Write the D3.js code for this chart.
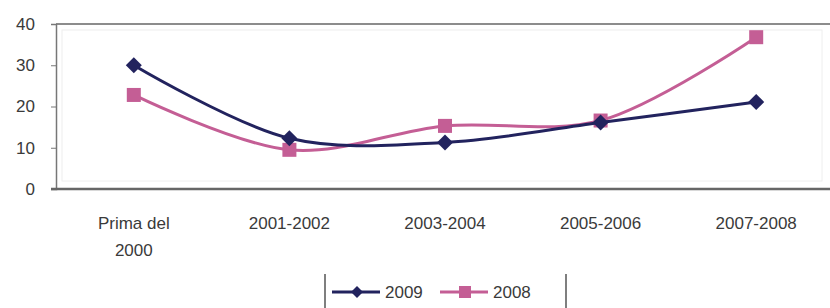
<!DOCTYPE html>
<html>
<head>
<meta charset="utf-8">
<script src="https://cdn.jsdelivr.net/npm/d3@7"></script>
<style>
  body { margin: 0; background: #fff; }
  svg { display: block; font-family: "Liberation Sans", Arial, sans-serif; }
</style>
</head>
<body>
<div id="chart"></div>
<script>
const width = 830;
const height = 308;
const margin = ({top: 24, right: -4, bottom: 119, left: 56});

const categories = ["Prima del 2000", "2001-2002", "2003-2004", "2005-2006", "2007-2008"];
const seriesNames = ["2009", "2008"];
const values2009 = [30, 12.3, 11.3, 16.1, 21.1];
const values2008 = [22.8, 9.5, 15.3, 16.6, 36.8];
const yTicks = [0, 10, 20, 30, 40];

const colors = d3.scaleOrdinal()
    .domain(seriesNames)
    .range(["#22235e", "#c45e95"]);

const svg = d3.select("#chart")
    .append("svg")
    .attr("width", width)
    .attr("height", height);

const x = d3.scaleBand()
    .domain(categories)
    .range([margin.left, width - margin.right]);

const y = d3.scaleLinear()
    .domain([0, 40])
    .range([height - margin.bottom, margin.top]);

// faint inner frame of the plot area
svg.append("rect")
    .attr("x", margin.left + 6)
    .attr("y", y(40) + 6)
    .attr("width", 822 - margin.left - 6)
    .attr("height", y(0) - y(40) - 14)
    .attr("fill", "none")
    .attr("stroke", "#eee");

// top border
svg.append("line")
    .attr("x1", margin.left).attr("x2", width)
    .attr("y1", y(40)).attr("y2", y(40))
    .attr("stroke", "#8c8c8c").attr("stroke-width", 2);

// y axis
const yAxis = svg.append("g")
    .attr("transform", "translate(" + margin.left + ",0)")
    .call(d3.axisLeft(y).tickValues(yTicks).tickSize(5).tickPadding(16));
yAxis.select(".domain").attr("stroke", "#777").attr("stroke-width", 1.5);
yAxis.selectAll("line").attr("stroke", "#777");
yAxis.selectAll("text").attr("font-size", 17).attr("fill", "#3a3a3a");

// x axis line
svg.append("line")
    .attr("x1", margin.left - 5).attr("x2", width)
    .attr("y1", y(0)).attr("y2", y(0))
    .attr("stroke", "#666").attr("stroke-width", 2.5);

// x labels, "Prima del 2000" on two lines
categories.forEach(function (c) {
    const cx = x(c) + x.bandwidth() / 2;
    const t = svg.append("text")
        .attr("x", cx)
        .attr("y", 229)
        .attr("text-anchor", "middle")
        .attr("font-size", 17)
        .attr("fill", "#3a3a3a");
    if (c === "Prima del 2000") {
        t.append("tspan").attr("x", cx).text("Prima del");
        t.append("tspan").attr("x", cx).attr("dy", 27).text("2000");
    } else {
        t.text(c);
    }
});

const line = d3.line()
    .x(function (d, i) { return x(categories[i]) + x.bandwidth() / 2; })
    .y(function (d) { return y(d); })
    .curve(d3.curveCatmullRom.alpha(0.5));

const series = [
    {name: "2009", values: values2009},
    {name: "2008", values: values2008}
];

function drawMarker(g, name, cx, cy, s) {
    if (name === "2009") {
        g.append("path")
            .attr("d", "M0," + (-s) + "L" + s + ",0L0," + s + "L" + (-s) + ",0Z")
            .attr("transform", "translate(" + cx + "," + cy + ")")
            .attr("fill", colors(name));
    } else {
        g.append("rect")
            .attr("x", cx - s).attr("y", cy - s)
            .attr("width", 2 * s).attr("height", 2 * s)
            .attr("fill", colors(name));
    }
}

// 2008 first so 2009 sits on top
[series[1], series[0]].forEach(function (s) {
    svg.append("path")
        .datum(s.values)
        .attr("fill", "none")
        .attr("stroke", colors(s.name))
        .attr("stroke-width", 3)
        .attr("d", line);
    s.values.forEach(function (v, i) {
        drawMarker(svg, s.name, x(categories[i]) + x.bandwidth() / 2, y(v), s.name === "2009" ? 8 : 7);
    });
});

// legend
const legend = svg.append("g");
[325, 566].forEach(function (lx) {
    legend.append("line").attr("x1", lx).attr("x2", lx).attr("y1", 274).attr("y2", 308)
        .attr("stroke", "#555").attr("stroke-width", 1.5);
});

const legendItems = [
    {name: "2009", x0: 332},
    {name: "2008", x0: 440}
];
legendItems.forEach(function (d) {
    legend.append("line")
        .attr("x1", d.x0).attr("x2", d.x0 + 48)
        .attr("y1", 292).attr("y2", 292)
        .attr("stroke", colors(d.name)).attr("stroke-width", 3);
    drawMarker(legend, d.name, d.x0 + 25, 292, 6);
    legend.append("text")
        .attr("x", d.x0 + 53)
        .attr("y", 298)
        .attr("font-size", 17)
        .attr("fill", "#3a3a3a")
        .text(d.name);
});
</script>
</body>
</html>
